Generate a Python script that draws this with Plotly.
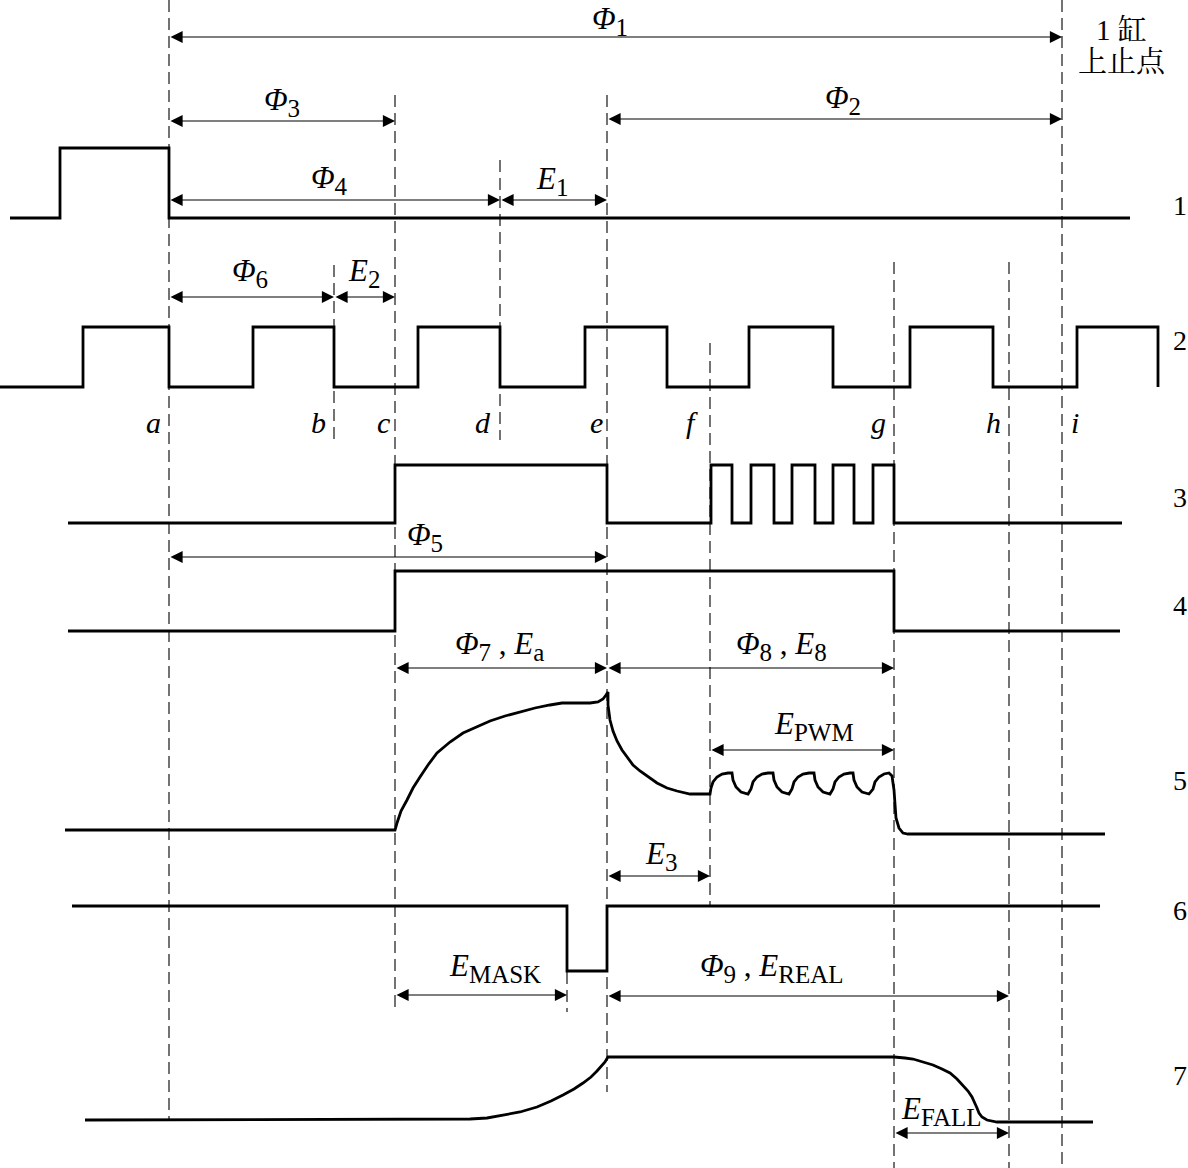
import plotly.graph_objects as go

# ---------------- data (picture pixel coordinates, y grows downward) ----------------
EVENT_NAMES = ["a", "b", "c", "d", "e", "f", "g", "h", "i"]
EVENT_X = [169, 334, 395, 500, 607, 710, 894, 1009, 1062]
MASK_X = 567

# dashed guide lines: (x, top, bottom)
GUIDE_X = [169, 334, 395, 500, 607, 567, 710, 894, 1009, 1062]
GUIDE_TOP = [0, 265, 95, 160, 95, 972, 343, 262, 262, 0]
GUIDE_BOT = [1120, 440, 1012, 440, 1092, 1012, 906, 1168, 1168, 1168]

# step signals (hv shape)
SIG1_X = [10, 60, 169, 1130]
SIG1_Y = [218, 148, 218, 218]
SIG2_X = [0, 83, 169, 253, 334, 418, 500, 585, 667, 749, 833, 910, 993, 1077, 1158, 1158]
SIG2_Y = [387, 327, 387, 327, 387, 327, 387, 327, 387, 327, 387, 327, 387, 327, 387, 387]
SIG3_X = [68, 395, 607, 711, 732, 751, 774, 792, 815, 833, 854, 873, 894, 1122]
SIG3_Y = [523, 465, 523, 465, 523, 465, 523, 465, 523, 465, 523, 465, 523, 523]
SIG4_X = [68, 395, 894, 1120]
SIG4_Y = [631, 571, 631, 631]
SIG6_X = [72, 567, 607, 1100]
SIG6_Y = [906, 971, 906, 906]

SIG5_X = [65, 395, 397, 401, 407, 413, 420, 428, 437, 450, 463, 476, 490, 505, 520, 535, 550, 562, 575,
          590, 598, 603, 606, 608, 608, 610, 613, 617, 622, 627, 633, 640, 648, 657, 667, 677, 690, 710,
          711, 713, 717, 722, 728, 732, 733, 736, 741, 748,
          751, 753, 757, 762, 768, 773, 774, 777, 782, 789,
          792, 794, 798, 803, 809, 814, 815, 818, 823, 830,
          833, 835, 839, 844, 850, 853, 854, 857, 862, 869,
          873, 875, 879, 884, 889, 892, 894, 895, 896, 899, 903, 908, 1105]
SIG5_Y = [830, 830, 823, 811, 800, 788, 777, 765, 753, 742, 733, 727, 721, 716, 712, 708, 705, 703, 703,
          703, 702, 699, 695, 692, 705, 720, 731, 741, 750, 757, 765, 771, 777, 783, 788, 791, 794, 794,
          788, 782, 777, 774, 773, 773, 780, 787, 792, 794,
          789, 782, 777, 774, 773, 773, 780, 787, 792, 794,
          789, 782, 777, 774, 773, 773, 780, 787, 792, 794,
          789, 782, 777, 774, 773, 773, 780, 787, 792, 794,
          789, 782, 777, 774, 773, 776, 790, 805, 818, 828, 833, 834, 834]
SIG7_X = [85, 470, 487, 503, 520, 537, 551, 563, 574, 583, 591, 597, 602, 605, 608, 894, 905, 913, 923,
          933, 942, 950, 957, 963, 968, 972, 975, 977, 979, 982, 987, 997, 1093]
SIG7_Y = [1120, 1119, 1118, 1115, 1112, 1107, 1101, 1095, 1089, 1083, 1077, 1071, 1066, 1062, 1057, 1057,
          1058, 1059, 1062, 1065, 1069, 1073, 1079, 1085, 1091, 1097, 1103, 1108, 1113, 1117, 1120, 1122, 1122]

# dimension arrows: (start x, end x, y)
ARROW_X0 = [169, 169, 607, 169, 500, 169, 334, 169, 395, 607, 710, 607, 395, 607, 894]
ARROW_X1 = [1062, 395, 1062, 500, 607, 334, 395, 607, 607, 894, 894, 710, 567, 1009, 1009]
ARROW_Y = [37, 121, 119, 200, 200, 297, 297, 557, 668, 668, 750, 876, 995, 996, 1133]

# dimension labels: main symbol, subscript (pairs joined with " , ")
DIM_PARTS = [[("Φ", "1")], [("Φ", "3")], [("Φ", "2")], [("Φ", "4")], [("E", "1")], [("Φ", "6")],
             [("E", "2")], [("Φ", "5")], [("Φ", "7"), ("E", "a")], [("Φ", "8"), ("E", "8")],
             [("E", "PWM")], [("E", "3")], [("E", "MASK")], [("Φ", "9"), ("E", "REAL")], [("E", "FALL")]]
DIM_X = [610, 282, 843, 329, 552, 250, 364, 425, 499, 781, 814, 661, 495, 772, 941]
DIM_Y = [21, 102, 100, 180, 181, 273, 273, 537, 646, 646, 726, 856, 968, 968, 1111]

SIGNAL_NAMES = ["1", "2", "3", "4", "5", "6", "7"]
SIGNAL_LABEL_Y = [205, 340, 497, 605, 780, 910, 1075]
LETTER_X = [153, 318, 383, 483, 596, 692, 878, 993, 1075]
LETTER_Y = 422

TDC_LINES = ["1 缸", "上止点"]
TDC_X = [1121, 1122]
TDC_Y = [30, 62]

# ---------------- figure ----------------
SERIF = "Liberation Serif, Times New Roman, serif"
CJK = "Liberation Serif, Noto Serif CJK SC, Noto Sans CJK SC, sans-serif"
LW = 2.8
MAIN_SIZE = 31
SUB_SIZE = 25


def dim_label(parts):
    out = []
    for sym, sub in parts:
        out.append("<i>%s</i><sub><span style='font-size:%dpx'>%s</span></sub>" % (sym, SUB_SIZE, sub))
    return " , ".join(out)


fig = go.Figure()

for gx, gt, gb in zip(GUIDE_X, GUIDE_TOP, GUIDE_BOT):
    fig.add_trace(go.Scatter(x=[gx, gx], y=[gt, gb], mode="lines",
                             line=dict(color="black", width=1.1, dash="12px,6px"),
                             hoverinfo="skip", showlegend=False))

for sx, sy in [(SIG1_X, SIG1_Y), (SIG2_X, SIG2_Y), (SIG3_X, SIG3_Y), (SIG4_X, SIG4_Y), (SIG6_X, SIG6_Y)]:
    fig.add_trace(go.Scatter(x=sx, y=sy, mode="lines", line=dict(color="black", width=LW, shape="hv"),
                             hoverinfo="skip", showlegend=False))

for sx, sy in [(SIG5_X, SIG5_Y), (SIG7_X, SIG7_Y)]:
    fig.add_trace(go.Scatter(x=sx, y=sy, mode="lines", line=dict(color="black", width=LW, shape="linear"),
                             hoverinfo="skip", showlegend=False))

ann = []
for x0, x1, y in zip(ARROW_X0, ARROW_X1, ARROW_Y):
    ann.append(dict(x=x1, y=y, ax=x0, ay=y, xref="x", yref="y", axref="x", ayref="y",
                    text="", showarrow=True, arrowhead=2, startarrowhead=2, arrowside="end+start",
                    arrowsize=2.2, startarrowsize=2.2, arrowwidth=1.1, arrowcolor="black",
                    standoff=0, startstandoff=0))

for parts, x, y in zip(DIM_PARTS, DIM_X, DIM_Y):
    ann.append(dict(x=x, y=y, xref="x", yref="y", text=dim_label(parts), showarrow=False,
                    font=dict(family=SERIF, size=MAIN_SIZE, color="black"), xanchor="center", yanchor="middle"))

for t, y in zip(SIGNAL_NAMES, SIGNAL_LABEL_Y):
    ann.append(dict(x=1180, y=y, xref="x", yref="y", text=t, showarrow=False,
                    font=dict(family=SERIF, size=28, color="black"), xanchor="center", yanchor="middle"))

for t, x in zip(EVENT_NAMES, LETTER_X):
    ann.append(dict(x=x, y=LETTER_Y, xref="x", yref="y", text="<i>" + t + "</i>", showarrow=False,
                    font=dict(family=SERIF, size=30, color="black"), xanchor="center", yanchor="middle"))

for t, x, y in zip(TDC_LINES, TDC_X, TDC_Y):
    ann.append(dict(x=x, y=y, xref="x", yref="y", text=t, showarrow=False,
                    font=dict(family=CJK, size=29, color="black"), xanchor="center", yanchor="middle"))

fig.update_layout(
    width=1188, height=1168,
    margin=dict(l=0, r=0, t=0, b=0),
    paper_bgcolor="white", plot_bgcolor="white",
    xaxis=dict(range=[0, 1188], visible=False, fixedrange=True),
    yaxis=dict(range=[1168, 0], visible=False, fixedrange=True),
    annotations=ann,
    showlegend=False,
)

fig.write_html("out.html", config={"displayModeBar": False},
               post_script="document.body.style.margin='0';document.body.style.overflow='hidden';")
